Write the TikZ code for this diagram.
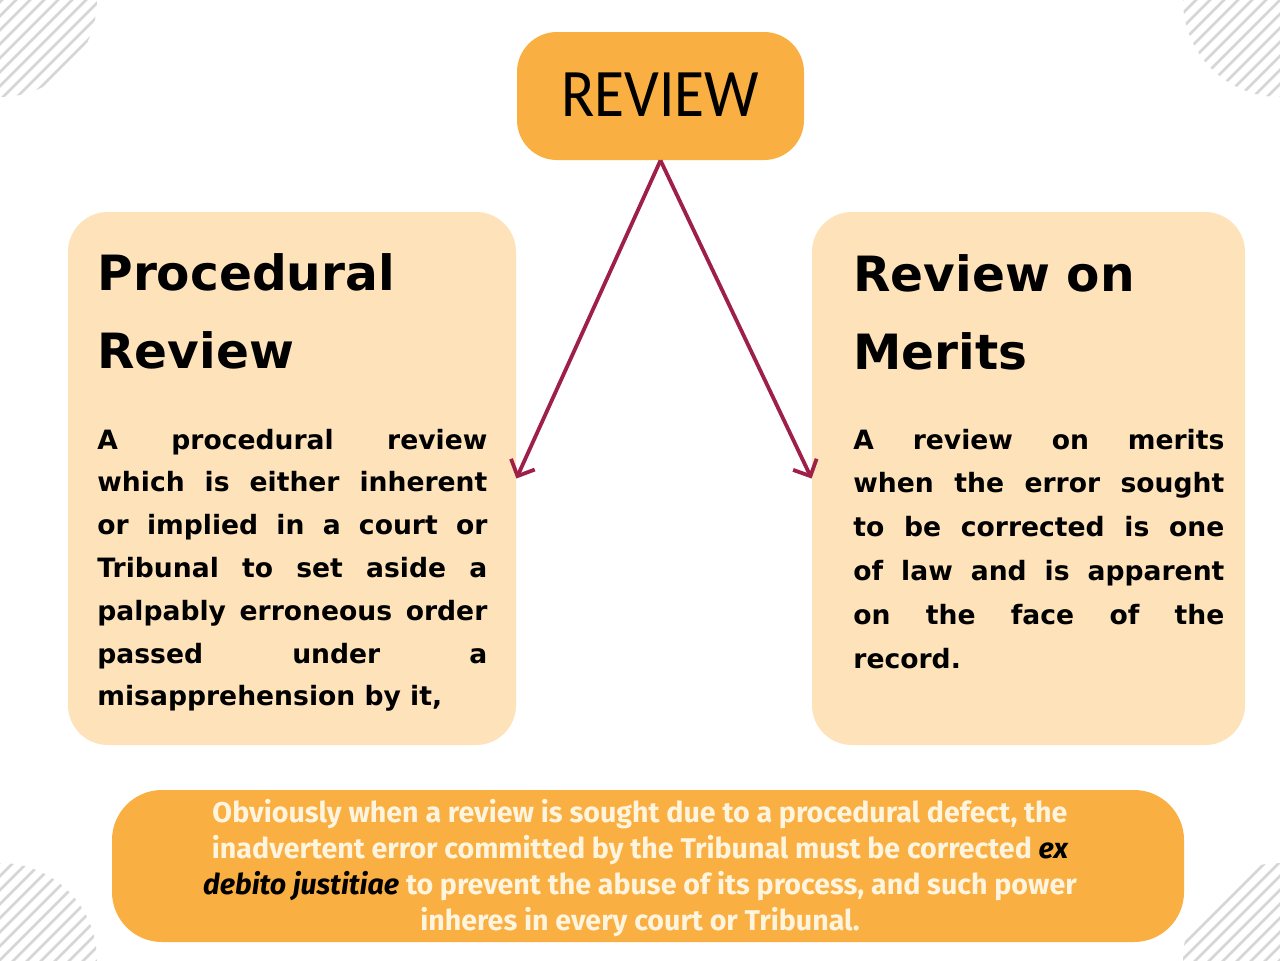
\documentclass[tikz,border=0pt]{standalone}
\usepackage{fontspec}
\setmainfont{DejaVu Sans}
\newfontfamily\reviewfont[FakeStretch=0.9]{Carlito}
\newfontfamily\headfont{DejaVu Sans}
\newfontfamily\bodyfont{DejaVu Sans}
\newfontfamily\notefont{Fira Sans}
\usetikzlibrary{arrows.meta}
\definecolor{orangebox}{HTML}{F9AF42}
\definecolor{peach}{HTML}{FEE3BA}
\definecolor{arrowred}{HTML}{9E1F48}
\definecolor{cream}{HTML}{FFF4DE}
\definecolor{hatch}{HTML}{D6D6D6}
\tikzset{
  panel/.style={rectangle, rounded corners=20pt, inner sep=0pt, draw=none},
  hatchline/.style={draw=hatch, line width=1.3pt},
  connector/.style={draw=arrowred, line width=1.9pt, -{Straight Barb[length=6.5pt,width=13pt,line width=1.9pt]}},
  headtext/.style={anchor=base west, inner sep=0pt, font=\headfont\bfseries\fontsize{24.3}{39}\selectfont},
  bodytext/.style={anchor=base west, inner sep=0pt, font=\bodyfont\bfseries\fontsize{13.3}{21.4}\selectfont},
}
\newcommand{\jl}[1]{\makebox[\linewidth][s]{#1}\\}
\begin{document}
\begin{tikzpicture}[x=0.5pt,y=-0.5pt]
\useasboundingbox[fill=white] (0,0) rectangle (1280,960);
% corner hatching
\begin{scope}
  \clip (0,0) circle (97);
  \foreach \i in {-8,...,8} { \draw[hatchline] ({100+14*\i+300},-300) -- ({100+14*\i-300},300); }
\end{scope}
\begin{scope}
  \clip (1280,0) circle (97);
  \foreach \i in {-8,...,8} { \draw[hatchline] ({1280+14*\i+300},-300) -- ({1280+14*\i-300},300); }
\end{scope}
\begin{scope}
  \clip (0,960) circle (97);
  \foreach \i in {-8,...,8} { \draw[hatchline] ({960+14*\i-660},660) -- ({960+14*\i-1260},1260); }
\end{scope}
\begin{scope}
  \clip (1280,960) circle (97);
  \foreach \i in {-8,...,8} { \draw[hatchline] ({2240+14*\i-660},660) -- ({2240+14*\i-1260},1260); }
\end{scope}
% boxes
\node[panel, fill=orangebox, minimum width=143.5pt, minimum height=64pt,
      font=\reviewfont\fontsize{34}{40}\selectfont] (review) at (660.5,96) {\raisebox{1.5pt}{REVIEW}};
\node[panel, fill=peach, minimum width=224pt, minimum height=266.5pt] (lbox) at (292,478.5) {};
\node[panel, fill=peach, minimum width=216.5pt, minimum height=266.5pt] (rbox) at (1028.5,478.5) {};
\node[panel, fill=orangebox, rounded corners=25pt, minimum width=536pt, minimum height=76pt] (note) at (648,866) {};
% connectors
\draw[connector] (review.south) -- (lbox.east);
\draw[connector] (review.south) -- (rbox.west);
% headings
\node[headtext] (lhead) at (97,290) {\parbox[t]{220pt}{Procedural\\Review}};
\node[headtext] (rhead) at (853,291) {\parbox[t]{200pt}{Review on\\Merits}};
% body texts
\node[bodytext] (lbody) at (97,449) {\parbox[t]{195pt}{%
\jl{A procedural review}
\jl{which is either inherent}
\jl{or implied in a court or}
\jl{Tribunal to set aside a}
\jl{palpably erroneous order}
\jl{passed under a}
misapprehension by it,}};
\node[bodytext, font=\bodyfont\bfseries\fontsize{13.3}{21.9}\selectfont] (rbody) at (853,449) {\parbox[t]{185.5pt}{%
\jl{A review on merits}
\jl{when the error sought}
\jl{to be corrected is one}
\jl{of law and is apparent}
\jl{on the face of the}
record.}};
% note text
\node[anchor=base, inner sep=0pt, text=cream,
      font=\notefont\bfseries\fontsize{14.3}{18}\selectfont] (notetext) at (640,822)
  {\parbox[t]{560pt}{\centering
   Obviously when a review is sought due to a procedural defect, the\\
   inadvertent error committed by the Tribunal must be corrected \textcolor{black}{\itshape ex}\\
   \textcolor{black}{\itshape debito justitiae} to prevent the abuse of its process, and such power\\
   inheres in every court or Tribunal.}};
\end{tikzpicture}
\end{document}
